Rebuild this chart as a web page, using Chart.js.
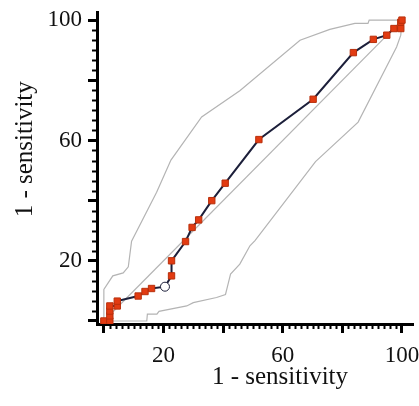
<!DOCTYPE html>
<html lang="en">
<head>
  <meta charset="UTF-8">
  <title>ROC curve</title>
  <style>
    body {
      margin: 0;
      background: #fff;
    }

    #chart-container {
      width: 419px;
      height: 406px;
    }
  </style>
</head>
<body>
  <div id="chart-container">
    <canvas id="rocChart"></canvas>
  </div>

  <script src="https://cdn.jsdelivr.net/npm/chart.js"></script>
  <script>
    // ROC points (x = 1 - specificity, y = sensitivity)
    const rocX = [0, 2, 2, 2, 2, 4.5, 4.5, 11.5, 13.8, 16, 20.5, 22.7, 22.7, 27.4, 29.6, 31.8, 36.2, 40.7, 52, 70.2, 83.7, 90.4, 94.9, 97.3, 99.6, 99.6, 100];
    const rocY = [0, 0, 1.7, 3.3, 5, 5, 6.6, 8.3, 9.8, 10.8, 11.4, 15, 20, 26.4, 31.1, 33.6, 40, 45.8, 60.3, 73.7, 89.2, 93.6, 95, 97.2, 97.2, 99.3, 100];
    const hollowIndex = 10; // the one open marker

    // confidence band
    const upperX = [0, 0, 3, 6.5, 8.2, 9.3, 17.7, 22.5, 32.8, 45.6, 65.8, 75.8, 84.2, 88.6, 89, 100];
    const upperY = [0, 10.5, 15, 16, 18, 26.5, 42.8, 53.5, 67.8, 76.5, 93.3, 96.9, 98.9, 98.9, 100, 100];
    const lowerX = [0, 14.4, 14.6, 17.8, 18.5, 27.8, 30, 37.8, 40.8, 41.6, 42.5, 45.6, 49, 50.7, 71, 85.3, 98.2, 99.6, 100];
    const lowerY = [0, 0, 2.3, 2.3, 3.2, 5, 6.1, 7.8, 8.8, 12, 15.6, 18.9, 25, 26.7, 53, 66.1, 91.1, 95, 100];

    // chance line
    const diagX = [0, 100];
    const diagY = [0, 100];

    const majorTicks = [0, 20, 40, 60, 80, 100];
    const labelledTicks = [20, 60, 100];

    const toPoints = (xs, ys) => xs.map((x, i) => ({ x: x, y: ys[i] }));

    const serif = "'Liberation Serif', 'DejaVu Serif', serif";

    // small ticks between the big ones, drawn outside the axes
    const minorTicks = {
      id: 'minorTicks',
      afterDraw(chart) {
        const { ctx, chartArea, scales } = chart;
        ctx.save();
        ctx.strokeStyle = '#000';
        ctx.lineWidth = 2;
        for (let v = 0; v < 100; v += 2) {
          if (v % 20 === 0) continue;
          const px = Math.round(scales.x.getPixelForValue(v)) + 0.5;
          ctx.beginPath();
          ctx.moveTo(px, chartArea.bottom);
          ctx.lineTo(px, chartArea.bottom + 5);
          ctx.stroke();
        }
        for (let k = 0; k < 30; k++) {
          if (k % 6 === 0) continue;
          const py = Math.round(scales.y.getPixelForValue(k * 20 / 6)) + 0.5;
          ctx.beginPath();
          ctx.moveTo(chartArea.left, py);
          ctx.lineTo(chartArea.left - 5, py);
          ctx.stroke();
        }
        ctx.restore();
      }
    };

    const axis = (min, max, title) => ({
      type: 'linear',
      min: min,
      max: max,
      afterBuildTicks: s => { s.ticks = majorTicks.map(v => ({ value: v })); },
      border: { color: '#000', width: 3 },
      grid: {
        drawOnChartArea: false,
        tickLength: 9,
        tickWidth: 3,
        tickColor: '#000'
      },
      ticks: {
        autoSkip: false,
        maxRotation: 0,
        padding: 6,
        color: '#111',
        font: { family: serif, size: 23 },
        callback: v => labelledTicks.includes(v) ? v : ''
      },
      title: {
        display: true,
        text: title,
        color: '#111',
        font: { family: serif, size: 25 },
        padding: 0
      }
    });

    // leading spaces nudge the titles off-centre, as in the original
    const xAxis = axis(-2.3, 103.7, '        1 - sensitivity');
    xAxis.ticks.padding = 9;
    xAxis.afterFit = s => {
      s.height = 68;
      s.paddingLeft = 0;
      s.paddingRight = 0;
    };
    const yAxis = axis(-1, 102.7, '      1 - sensitivity');
    yAxis.afterFit = s => {
      s.width = 87;
      s.paddingTop = 0;
      s.paddingBottom = 0;
    };

    new Chart(document.getElementById('rocChart'), {
      type: 'scatter',
      data: {
        datasets: [{
          label: 'ROC',
          data: toPoints(rocX, rocY),
          showLine: true,
          borderColor: '#1c1f3a',
          borderWidth: 2,
          tension: 0,
          pointStyle: ctx => ctx.dataIndex === hollowIndex ? 'circle' : 'rect',
          pointRadius: 4.5,
          pointBorderWidth: 1,
          pointBackgroundColor: ctx => ctx.dataIndex === hollowIndex ? '#fff' : '#e23b12',
          pointBorderColor: ctx => ctx.dataIndex === hollowIndex ? '#1c1f3a' : '#b8300c'
        },
        {
          label: 'Chance',
          data: toPoints(diagX, diagY),
          showLine: true,
          borderColor: '#b4b4b4',
          borderWidth: 1.2,
          pointRadius: 0
        },
        {
          label: 'Upper',
          data: toPoints(upperX, upperY),
          showLine: true,
          borderColor: '#b4b4b4',
          borderWidth: 1.2,
          pointRadius: 0
        },
        {
          label: 'Lower',
          data: toPoints(lowerX, lowerY),
          showLine: true,
          borderColor: '#b4b4b4',
          borderWidth: 1.2,
          pointRadius: 0
        }]
      },
      options: {
        responsive: true,
        maintainAspectRatio: false,
        animation: false,
        layout: { padding: { top: 12, right: 6, left: 10, bottom: 14 } },
        plugins: {
          legend: { display: false },
          tooltip: { enabled: false }
        },
        scales: {
          x: xAxis,
          y: yAxis
        }
      },
      plugins: [minorTicks]
    });
  </script>
</body>
</html>
